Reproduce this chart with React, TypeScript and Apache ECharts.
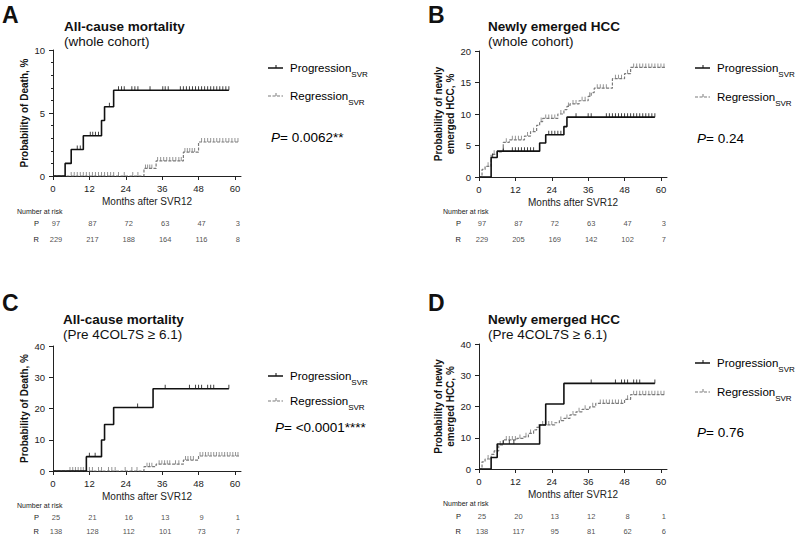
import React, { useEffect, useRef } from 'react';
import * as echarts from 'echarts';

const FONT = '"Liberation Sans", Arial, Helvetica, sans-serif';

const xTicks = [0, 12, 24, 36, 48, 60];
const riskMonths = [0, 12, 24, 36, 48, 60];
const riskRows = ['P', 'R'];

// ---- Panel A: all-cause mortality, whole cohort
const aProgT = [0, 4, 6, 10, 16, 17, 20, 58];
const aProgV = [0, 1.0, 2.1, 3.2, 4.4, 5.5, 6.8, 6.8];
const aProgCens = [8, 9, 12.3, 13.1, 14, 15, 18.6, 21.6, 22.6, 23.5, 26, 27, 28, 32, 36.2, 37, 38, 42, 43, 44, 45, 46, 47, 48, 49, 50, 51, 52, 53, 54, 55, 56, 57, 58];
const aRegT = [0, 30, 34, 43, 48, 61.4];
const aRegV = [0, 0.6, 1.2, 1.9, 2.7, 2.7];
const aRegCens = [6, 7, 8, 9, 10, 11, 12, 13, 14, 15, 16, 17, 18, 19, 20, 21.6, 23.5, 26.3, 28, 30.5, 31.2, 31.9, 32.6, 34.5, 35.5, 36.5, 37.5, 38.5, 39.5, 40.5, 41.5, 42.3, 43.5, 44.3, 45.1, 45.9, 46.7, 49, 50, 51, 52, 53, 54, 55, 56, 57, 58, 59, 60, 61];
const aRiskP = [97, 87, 72, 63, 47, 3];
const aRiskR = [229, 217, 188, 164, 116, 8];

// ---- Panel B: newly emerged HCC, whole cohort
const bProgT = [0, 4, 6, 20, 22, 28, 29, 58];
const bProgV = [0, 3.1, 4.1, 5.4, 6.7, 8.0, 9.5, 9.5];
const bProgCens = [4.5, 8, 11, 12, 13, 14, 15, 16, 17, 18, 23, 24, 25, 26, 27, 32, 36, 37, 42, 43, 44, 45, 46, 47, 48, 49, 50, 51, 52, 53, 54, 55, 56, 57, 58];
const bRegT = [0, 1, 2, 4, 6, 8, 10, 15, 17, 19, 20, 21, 26, 28, 29, 30, 33, 36, 37, 38, 44, 48, 50, 61.3];
const bRegV = [0, 1.2, 1.7, 3.6, 4.0, 5.5, 5.9, 6.5, 7.2, 8.2, 8.8, 9.3, 10.0, 10.7, 11.2, 11.6, 12.1, 12.8, 13.4, 14.1, 15.6, 16.4, 17.4, 17.4];
const bRegCens = [3, 5, 9, 11, 12, 13, 14, 16, 18, 20.5, 22, 23, 24, 25, 27, 29.5, 31, 32, 34, 35, 36.5, 39, 40, 41, 42, 45, 46, 47, 49, 51, 52, 53, 54, 55, 56, 57, 58, 59, 60, 61];
const bRiskP = [97, 87, 72, 63, 47, 3];
const bRiskR = [229, 205, 169, 142, 102, 7];

// ---- Panel C: all-cause mortality, Pre 4COL7S >= 6.1
const cProgT = [0, 11, 16, 17, 20, 33, 58];
const cProgV = [0, 4.6, 9.9, 14.9, 20.3, 26.3, 26.3];
const cProgCens = [12, 13.9, 27.9, 37, 45, 47, 48, 49, 51, 52, 53, 58];
const cRegT = [0, 30, 34, 43, 48, 61.4];
const cRegV = [0, 1.4, 2.2, 3.5, 4.8, 4.8];
const cRegCens = [5.6, 6.5, 7.4, 8.3, 9.2, 10, 12, 13, 15, 16, 18.3, 19.4, 20.5, 23.8, 26, 27.7, 31, 31.8, 32.6, 35, 35.9, 36.8, 37.7, 38.5, 40.4, 41.5, 43.7, 44.5, 45.4, 46.3, 48.5, 49.4, 50.3, 51.2, 52.1, 53, 53.9, 54.8, 55.7, 56.6, 57.5, 58.4, 59.3, 60.2, 61];
const cRiskP = [25, 21, 16, 13, 9, 1];
const cRiskR = [138, 128, 112, 101, 73, 7];

// ---- Panel D: newly emerged HCC, Pre 4COL7S >= 6.1
const dProgT = [0, 4, 6, 20, 22, 28, 58];
const dProgV = [0, 3.7, 8.0, 14.1, 20.8, 27.4, 27.4];
const dProgCens = [8, 10, 11.5, 37, 45, 47, 48, 49, 51, 52, 53, 58];
const dRegT = [0, 1, 2, 4, 5, 6.5, 8, 12.5, 14.5, 16.3, 18, 19, 19.6, 25, 26.5, 28, 30, 32, 34, 36.5, 38.5, 48, 50, 61.4];
const dRegV = [0, 2.3, 3.2, 4.7, 5.8, 7.7, 9.3, 9.8, 10.3, 11.4, 12.5, 13.3, 14.1, 14.8, 15.5, 16.2, 17.3, 18.3, 19.1, 19.9, 21.0, 22.3, 23.8, 23.8];
const dRegCens = [3, 7, 9, 10, 11, 12, 13.5, 15.5, 17, 21, 22, 23, 24, 27, 29, 31, 33, 35, 37.5, 40, 41, 42, 43, 44, 45, 46, 47, 49, 51, 52, 53, 54, 55, 56, 57, 58, 59, 60, 61];
const dRiskP = [25, 20, 13, 12, 8, 1];
const dRiskR = [138, 117, 95, 81, 62, 6];

const pValues = ['= 0.0062**', '= 0.24', '= <0.0001****', '= 0.76'];

const panels = [
  {
    letter: 'A', title: 'All-cause mortality', subtitle: '(whole cohort)', yName: 'Probability of Death, %',
    yMax: 10, yInterval: 5, minor: true,
    prog: { t: aProgT, v: aProgV, c: aProgCens }, reg: { t: aRegT, v: aRegV, c: aRegCens },
    riskP: aRiskP, riskR: aRiskR, p: pValues[0],
    L: { letterX: 2, letterY: 15, titleX: 64, titleY: 26, subY: 41, gridLeft: 53, gridTop: 50, gridH: 126, riskTop: 215, riskH: 32, legX: 268, progY: 68, regY: 96, pX: 271, pY: 137, narX: 17, narY: 211, nameGap: 22, riskMargin: 14 },
  },
  {
    letter: 'B', title: 'Newly emerged HCC', subtitle: '(whole cohort)', yName: 'Probability of newly\nemerged HCC, %',
    yMax: 20, yInterval: 5, minor: false,
    prog: { t: bProgT, v: bProgV, c: bProgCens }, reg: { t: bRegT, v: bRegV, c: bRegCens },
    riskP: bRiskP, riskR: bRiskR, p: pValues[1],
    L: { letterX: 428, letterY: 15, titleX: 488, titleY: 26, subY: 41, gridLeft: 479, gridTop: 51, gridH: 126, riskTop: 215, riskH: 32, legX: 695, progY: 68, regY: 97, pX: 697, pY: 138, narX: 443, narY: 211, nameGap: 21, riskMargin: 18 },
  },
  {
    letter: 'C', title: 'All-cause mortality', subtitle: '(Pre 4COL7S ≥ 6.1)', yName: 'Probability of Death, %',
    yMax: 40, yInterval: 10, minor: false,
    prog: { t: cProgT, v: cProgV, c: cProgCens }, reg: { t: cRegT, v: cRegV, c: cRegCens },
    riskP: cRiskP, riskR: cRiskR, p: pValues[2],
    L: { letterX: 2, letterY: 303, titleX: 63, titleY: 319, subY: 334, gridLeft: 53, gridTop: 346, gridH: 125, riskTop: 510, riskH: 31, legX: 268, progY: 376, regY: 401, pX: 275, pY: 427, narX: 17, narY: 505, nameGap: 22, riskMargin: 14 },
  },
  {
    letter: 'D', title: 'Newly emerged HCC', subtitle: '(Pre 4COL7S ≥ 6.1)', yName: 'Probability of newly\nemerged HCC, %',
    yMax: 40, yInterval: 10, minor: false,
    prog: { t: dProgT, v: dProgV, c: dProgCens }, reg: { t: dRegT, v: dRegV, c: dRegCens },
    riskP: dRiskP, riskR: dRiskR, p: pValues[3],
    L: { letterX: 428, letterY: 303, titleX: 488, titleY: 319, subY: 334, gridLeft: 479, gridTop: 344, gridH: 125, riskTop: 509, riskH: 32, legX: 695, progY: 363, regY: 392, pX: 697, pY: 432, narX: 443, narY: 503, nameGap: 21, riskMargin: 18 },
  },
];

const PROG_COLOR = '#111111';
const REG_COLOR = '#7a7a7a';
const AXIS_COLOR = '#222222';

function stepValue(ts: number[], vs: number[], t: number) {
  let v = vs[0];
  for (let i = 0; i < ts.length; i++) if (ts[i] <= t) v = vs[i];
  return v;
}

function buildOption() {
  const grid: any[] = [];
  const xAxis: any[] = [];
  const yAxis: any[] = [];
  const series: any[] = [];
  const graphic: any[] = [];

  panels.forEach((pn, i) => {
    const L = pn.L;
    const gMain = i * 2;
    const gRisk = i * 2 + 1;
    grid.push({ left: L.gridLeft, top: L.gridTop, width: 188, height: L.gridH });
    grid.push({ left: L.gridLeft, top: L.riskTop, width: 188, height: L.riskH });

    xAxis.push({
      type: 'value', gridIndex: gMain, min: 0, max: 62,
      axisLine: { show: true, lineStyle: { color: AXIS_COLOR, width: 1 } },
      axisTick: { show: true, customValues: xTicks, length: 4, lineStyle: { color: AXIS_COLOR } },
      axisLabel: { customValues: xTicks, fontSize: 9.5, color: AXIS_COLOR, margin: 7, fontFamily: FONT },
      splitLine: { show: false },
      name: 'Months after SVR12', nameLocation: 'middle', nameGap: 20,
      nameTextStyle: { fontSize: 10, color: AXIS_COLOR, fontFamily: FONT },
    });
    xAxis.push({ type: 'value', gridIndex: gRisk, min: 0, max: 62, show: false });

    yAxis.push({
      type: 'value', gridIndex: gMain, min: 0, max: pn.yMax, interval: pn.yInterval,
      axisLine: { show: true, lineStyle: { color: AXIS_COLOR, width: 1 } },
      axisTick: { show: true, length: 4, lineStyle: { color: AXIS_COLOR } },
      minorTick: { show: pn.minor, splitNumber: 5, length: 2, lineStyle: { color: AXIS_COLOR } },
      axisLabel: { fontSize: 9.5, color: AXIS_COLOR, margin: 8, fontFamily: FONT },
      splitLine: { show: false }, minorSplitLine: { show: false },
      name: pn.yName, nameLocation: 'middle', nameGap: L.nameGap,
      nameTextStyle: { fontSize: 10, fontWeight: 'bold', color: '#111', lineHeight: 12, fontFamily: FONT },
    });
    yAxis.push({
      type: 'category', gridIndex: gRisk, data: riskRows, inverse: true,
      axisLine: { show: false }, axisTick: { show: false }, splitLine: { show: false },
      axisLabel: { fontSize: 7.5, color: '#222', margin: L.riskMargin, fontFamily: FONT },
    });

    const mk = (t: number[], v: number[]) => t.map((x, k) => [x, v[k]]);
    series.push({
      type: 'line', name: 'Regression' + pn.letter, xAxisIndex: gMain, yAxisIndex: gMain,
      data: mk(pn.reg.t, pn.reg.v), step: 'end', showSymbol: false, silent: true,
      lineStyle: { color: REG_COLOR, width: 1.2, type: [3, 1.5] }, z: 2,
    });
    series.push({
      type: 'line', name: 'Progression' + pn.letter, xAxisIndex: gMain, yAxisIndex: gMain,
      data: mk(pn.prog.t, pn.prog.v), step: 'end', showSymbol: false, silent: true,
      lineStyle: { color: PROG_COLOR, width: 1.6 }, z: 3,
    });
    series.push({
      type: 'scatter', xAxisIndex: gMain, yAxisIndex: gMain, silent: true,
      data: pn.reg.c.map((t) => [t, stepValue(pn.reg.t, pn.reg.v, t)]),
      symbol: 'rect', symbolSize: [1, 4], symbolOffset: [0, -2], itemStyle: { color: REG_COLOR }, z: 2,
    });
    series.push({
      type: 'scatter', xAxisIndex: gMain, yAxisIndex: gMain, silent: true,
      data: pn.prog.c.map((t) => [t, stepValue(pn.prog.t, pn.prog.v, t)]),
      symbol: 'rect', symbolSize: [1, 4], symbolOffset: [0, -2], itemStyle: { color: PROG_COLOR }, z: 3,
    });
    const riskData: any[] = [];
    riskMonths.forEach((m, k) => {
      riskData.push([m, 'P', pn.riskP[k]]);
      riskData.push([m, 'R', pn.riskR[k]]);
    });
    series.push({
      type: 'scatter', xAxisIndex: gRisk, yAxisIndex: gRisk, silent: true,
      data: riskData, symbolSize: 0,
      label: {
        show: true, position: 'inside', offset: [3, 0], fontSize: 7.5, color: '#222', fontFamily: FONT,
        formatter: (p: any) => String(p.value[2]),
      },
    });

    // panel letter, titles
    graphic.push({ type: 'text', x: L.letterX, y: L.letterY, style: { text: pn.letter, font: `bold 23px ${FONT}`, fill: '#111', verticalAlign: 'middle' } });
    graphic.push({ type: 'text', x: L.titleX, y: L.titleY, style: { text: pn.title, font: `bold 13.5px ${FONT}`, fill: '#111', verticalAlign: 'middle' } });
    graphic.push({ type: 'text', x: L.titleX, y: L.subY, style: { text: pn.subtitle, font: `13.5px ${FONT}`, fill: '#111', verticalAlign: 'middle' } });

    // legend
    const lx1 = L.legX, lx2 = L.legX + 15, lm = L.legX + 8;
    graphic.push({ type: 'line', shape: { x1: lx1, y1: L.progY, x2: lx2, y2: L.progY }, style: { stroke: PROG_COLOR, lineWidth: 1.5 } });
    graphic.push({ type: 'line', shape: { x1: lm, y1: L.progY - 3, x2: lm, y2: L.progY }, style: { stroke: PROG_COLOR, lineWidth: 1 } });
    graphic.push({ type: 'line', shape: { x1: lx1, y1: L.regY, x2: lx2, y2: L.regY }, style: { stroke: REG_COLOR, lineWidth: 1.2, lineDash: [3, 1.5] } });
    graphic.push({ type: 'line', shape: { x1: lm, y1: L.regY - 3, x2: lm, y2: L.regY }, style: { stroke: REG_COLOR, lineWidth: 1 } });
    const rich = {
      a: { fontSize: 11.5, lineHeight: 20, fontFamily: FONT, color: '#111' },
      s: { fontSize: 8, lineHeight: 10, verticalAlign: 'bottom', fontFamily: FONT, color: '#111' },
    };
    graphic.push({ type: 'text', x: L.legX + 22, y: L.progY, style: { text: '{a|Progression}{s|SVR}', rich, verticalAlign: 'middle' } });
    graphic.push({ type: 'text', x: L.legX + 22, y: L.regY, style: { text: '{a|Regression}{s|SVR}', rich, verticalAlign: 'middle' } });
    graphic.push({
      type: 'text', x: L.pX, y: L.pY,
      style: {
        text: '{i|P}{n|' + pn.p + '}', verticalAlign: 'middle',
        rich: {
          i: { fontSize: 13.5, fontStyle: 'italic', fontFamily: FONT, color: '#111' },
          n: { fontSize: 13.5, fontFamily: FONT, color: '#111' },
        },
      },
    });
    graphic.push({ type: 'text', x: L.narX, y: L.narY, style: { text: 'Number at risk', font: `7px ${FONT}`, fill: '#222', verticalAlign: 'middle' } });
  });

  return { animation: false, backgroundColor: '#ffffff', grid, xAxis, yAxis, series, graphic };
}

export default function App() {
  const ref = useRef<HTMLDivElement>(null);
  useEffect(() => {
    const chart = echarts.init(ref.current!, null, { renderer: 'svg' });
    chart.setOption(buildOption() as any);
    return () => chart.dispose();
  }, []);
  return <div ref={ref} style={{ position: 'fixed', left: 0, top: 0, width: 800, height: 539, background: '#fff' }} />;
}
